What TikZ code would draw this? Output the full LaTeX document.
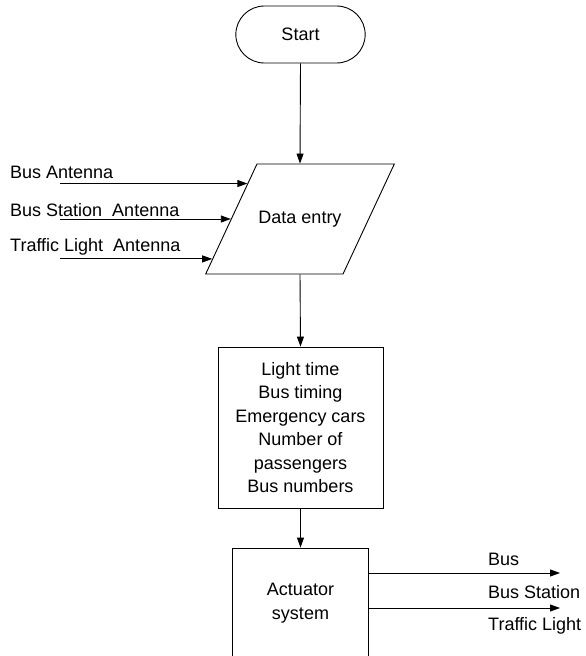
\documentclass[tikz,border=0pt]{standalone}
\usepackage{fontspec}
\setmainfont{Liberation Sans}
\usetikzlibrary{arrows.meta, shapes.geometric, shapes.misc, calc}

\begin{document}
\begin{tikzpicture}[x=1pt,y=-1pt,
    every node/.style={font=\fontsize{18}{23.4}\selectfont},
    flow/.style={-{Triangle[length=10pt,width=7pt]}, line width=0.9pt},
    blk/.style={rectangle, draw, line width=0.9pt, align=center},
    lbl/.style={anchor=base west, inner sep=0pt}]

\useasboundingbox (0,0) rectangle (586,656);
\clip (0,0) rectangle (586,656);

    \node[draw, rounded rectangle, line width=0.9pt, minimum width=136pt, minimum height=57pt] (start) at (300.5,34.5) {Start};
    \node[draw, trapezium, trapezium left angle=65, trapezium right angle=115, line width=0.9pt, text height=13pt, text depth=4pt, inner xsep=1.5pt, inner ysep=46.5pt] (data) at (300,219) {Data entry};
    \node[blk, minimum width=165pt, minimum height=161pt] (info) at (300.5,427.5) {Light time\\Bus timing\\Emergency cars\\Number of\\passengers\\Bus numbers};
    \node[blk, minimum width=136pt, minimum height=110pt] (act) at (300.5,603) {Actuator\\system}; %cut at the bottom

\draw[flow] (start.south) -- (data.north);
\draw[flow] (data.south) -- (info.north);
\draw[flow] (info.south) -- (act.north);

% antennas into data entry
    \node[lbl] (bant) at (10,178) {Bus Antenna};
    \node[lbl] (bsant) at (10,216.5) {Bus Station~ Antenna};
    \node[lbl] (tlant) at (10,251.5) {Traffic Light~ Antenna};

\coordinate (in) at (60,0);
\coordinate (ba) at ($(data.top left corner)!0.18!(data.bottom left corner)$);
\coordinate (tl) at ($(data.top left corner)!0.86!(data.bottom left corner)$);
\draw[flow] (ba -| in) -- (ba);
\draw[flow] (data.west -| in) -- (data.west);
\draw[flow] (tl -| in) -- (tl);

% actuator outputs
    \node[lbl] (obus) at (488,565.5) {Bus};
    \node[lbl] (obst) at (488,598) {Bus Station};
    \node[lbl] (otl) at (488,630.5) {Traffic Light};

\coordinate (bus) at (560,573);
\coordinate (bst) at (560,608);
\draw[flow] (act.east |- bus) -- (bus);
\draw[flow] (act.east |- bst) -- (bst);
\end{tikzpicture}
\end{document}
